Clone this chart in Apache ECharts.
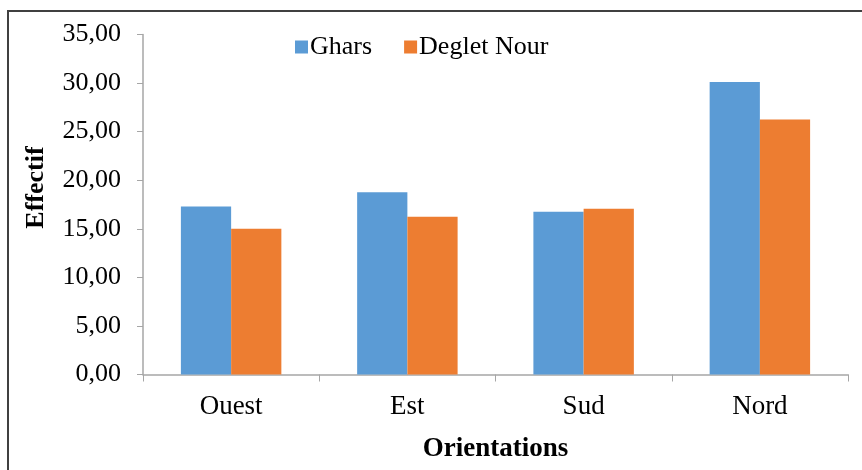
<!DOCTYPE html>
<html>
<head>
<meta charset="utf-8">
<script src="https://cdn.jsdelivr.net/npm/echarts@6/dist/echarts.min.js"></script>
<style>
	html, body { margin: 0; padding: 0; background: #fff; }
	#chart { width: 862px; height: 470px; }
</style>
</head>
<body>
<div id="chart"></div>
<script>
	var categories = ['Ouest', 'Est', 'Sud', 'Nord'];
	var seriesNames = ['Ghars', 'Deglet Nour'];
	var gharsData = [17.3, 18.75, 16.75, 30.1];
	var degletData = [15.0, 16.25, 17.05, 26.25];

	var fontFamily = '"Liberation Serif", "Times New Roman", serif';
	var axisColor = '#a6a6a6';

	var option = {
		backgroundColor: '#fff',
		textStyle: { fontFamily: fontFamily },
		graphic: [{
			type: 'rect',
			shape: { x: 8, y: 11, width: 900, height: 500 },
			style: { fill: 'none', stroke: '#404040', lineWidth: 2 },
			silent: true
		}],
		grid: {
			left: 143,
			right: 14,
			top: 34.5,
			bottom: 95.5,
			containLabel: false
		},
		legend: {
			left: 290,
			top: 29,
			icon: 'rect',
			itemWidth: 13,
			itemHeight: 13,
			itemGap: 32,
			textStyle: {
				color: '#000',
				fontSize: 26,
				fontFamily: fontFamily,
				padding: [0, 0, 0, -3]
			},
			data: seriesNames
		},
		xAxis: {
			type: 'category',
			data: categories,
			name: 'Orientations',
			nameLocation: 'middle',
			nameGap: 61,
			nameTextStyle: {
				color: '#000',
				fontSize: 27,
				fontWeight: 'bold',
				fontFamily: fontFamily
			},
			axisLine: { show: true, lineStyle: { color: axisColor, width: 1.5 } },
			axisTick: { show: true, length: 7, lineStyle: { color: axisColor } },
			axisLabel: { color: '#000', fontSize: 27, margin: 19, fontFamily: fontFamily },
			splitLine: { show: false }
		},
		yAxis: {
			type: 'value',
			min: 0,
			max: 35,
			interval: 5,
			name: 'Effectif',
			nameLocation: 'middle',
			nameGap: 94,
			nameTextStyle: {
				color: '#000',
				fontSize: 26,
				fontWeight: 'bold',
				fontFamily: fontFamily,
				padding: [0, 0, 0, 34]
			},
			axisLine: { show: true, lineStyle: { color: axisColor, width: 1.5 } },
			axisTick: { show: true, length: 6, lineStyle: { color: axisColor } },
			axisLabel: {
				color: '#000',
				fontSize: 26,
				margin: 22,
				fontFamily: fontFamily,
				formatter: function (v) { return v.toFixed(2).replace('.', ','); }
			},
			splitLine: { show: false }
		},
		series: [{
			name: seriesNames[0],
			type: 'bar',
			barGap: 0,
			barCategoryGap: '43%',
			itemStyle: { color: '#5b9bd5' },
			data: gharsData
		}, {
			name: seriesNames[1],
			type: 'bar',
			barGap: 0,
			barCategoryGap: '43%',
			itemStyle: { color: '#ed7d31' },
			data: degletData
		}]
	};

	var myChart = echarts.init(document.getElementById('chart'));
	myChart.setOption(option);
</script>
</body>
</html>
